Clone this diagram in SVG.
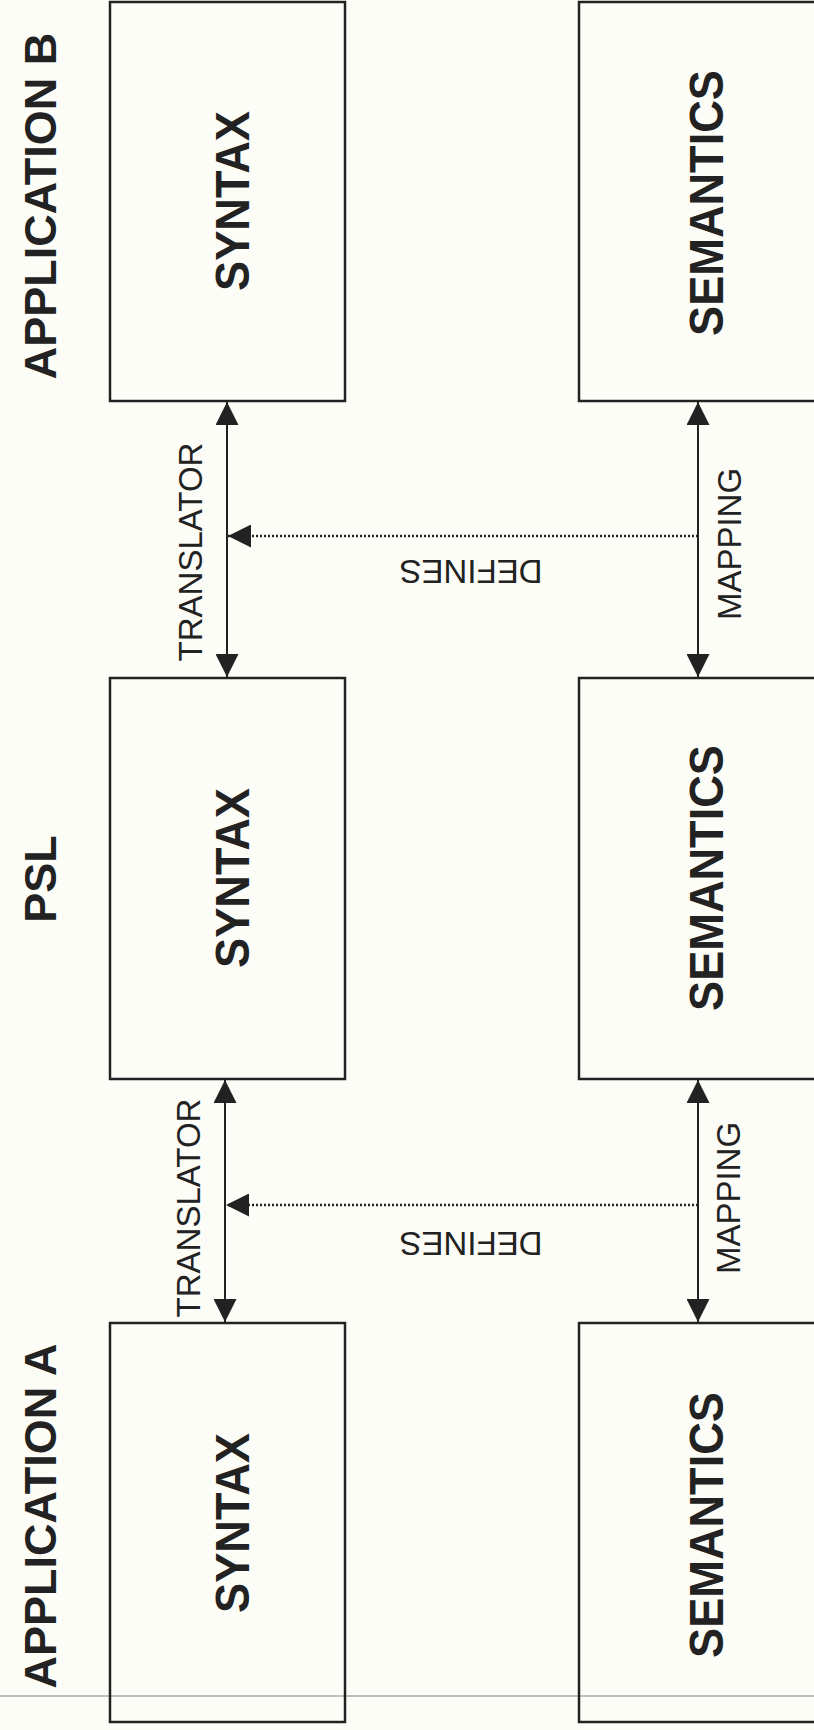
<svg xmlns="http://www.w3.org/2000/svg" width="814" height="1730" viewBox="0 0 814 1730">
<style>
.box{fill:none;stroke:#222;stroke-width:2.5}
.hdr{font-family:"Liberation Sans",Arial,sans-serif;font-weight:bold;font-size:45px;fill:#222;text-anchor:middle}
.lbl{font-family:"Liberation Sans",Arial,sans-serif;font-weight:bold;font-size:48px;fill:#222;text-anchor:middle}
.small{font-family:"Liberation Sans",Arial,sans-serif;font-size:33px;fill:#222;text-anchor:middle}
.arr{stroke:#222;stroke-width:2;fill:none;marker-start:url(#ah);marker-end:url(#ah)}
.dot{stroke:#222;stroke-width:2.5;fill:none;stroke-dasharray:2 2;marker-end:url(#ah)}
</style>
<defs>
<marker id="ah" markerUnits="userSpaceOnUse" markerWidth="23" markerHeight="23" refX="23" refY="11.5" orient="auto-start-reverse">
<path d="M0,0 L23,11.5 L0,23 z" fill="#222"/>
</marker>
</defs>
<rect width="814" height="1730" fill="#fdfdf8"/>
<line x1="0" y1="1696" x2="814" y2="1696" stroke="#aaa" stroke-width="1.5"/>
<g id="headers">
<text class="hdr" transform="translate(56,206) rotate(-90)">APPLICATION B</text>
<text class="hdr" transform="translate(56,879) rotate(-90)">PSL</text>
<text class="hdr" transform="translate(56,1516) rotate(-90)">APPLICATION A</text>
</g>
<g id="b-syntax"><rect class="box" x="110" y="2" width="235" height="399"/><text class="lbl" transform="translate(249,201) rotate(-90)" textLength="180" lengthAdjust="spacingAndGlyphs">SYNTAX</text></g>
<g id="b-semantics"><rect class="box" x="579" y="2" width="260" height="399"/><text class="lbl" transform="translate(723,203) rotate(-90)" textLength="266" lengthAdjust="spacingAndGlyphs">SEMANTICS</text></g>
<g id="psl-syntax"><rect class="box" x="110" y="678" width="235" height="401"/><text class="lbl" transform="translate(249,878) rotate(-90)" textLength="180" lengthAdjust="spacingAndGlyphs">SYNTAX</text></g>
<g id="psl-semantics"><rect class="box" x="579" y="678" width="260" height="401"/><text class="lbl" transform="translate(723,878) rotate(-90)" textLength="266" lengthAdjust="spacingAndGlyphs">SEMANTICS</text></g>
<g id="a-syntax"><rect class="box" x="110" y="1323" width="235" height="399"/><text class="lbl" transform="translate(249,1523) rotate(-90)" textLength="180" lengthAdjust="spacingAndGlyphs">SYNTAX</text></g>
<g id="a-semantics"><rect class="box" x="579" y="1323" width="260" height="399"/><text class="lbl" transform="translate(723,1525) rotate(-90)" textLength="266" lengthAdjust="spacingAndGlyphs">SEMANTICS</text></g>
<g id="connectors">
<line class="arr" x1="227" y1="402" x2="227" y2="677"/>
<line class="arr" x1="698" y1="402" x2="698" y2="677"/>
<line class="dot" x1="698" y1="536" x2="228" y2="536"/>
<line class="arr" x1="225" y1="1080" x2="225" y2="1322"/>
<line class="arr" x1="698" y1="1080" x2="698" y2="1322"/>
<line class="dot" x1="698" y1="1205" x2="226" y2="1205"/>
<text class="small" transform="translate(202,552) rotate(-90)">TRANSLATOR</text>
<text class="small" transform="translate(741,544) rotate(-90)">MAPPING</text>
<text class="small" transform="translate(471,560) rotate(180)">DEFINES</text>
<text class="small" transform="translate(200,1208) rotate(-90)">TRANSLATOR</text>
<text class="small" transform="translate(740,1198) rotate(-90)">MAPPING</text>
<text class="small" transform="translate(471,1232) rotate(180)">DEFINES</text>
</g>
</svg>
